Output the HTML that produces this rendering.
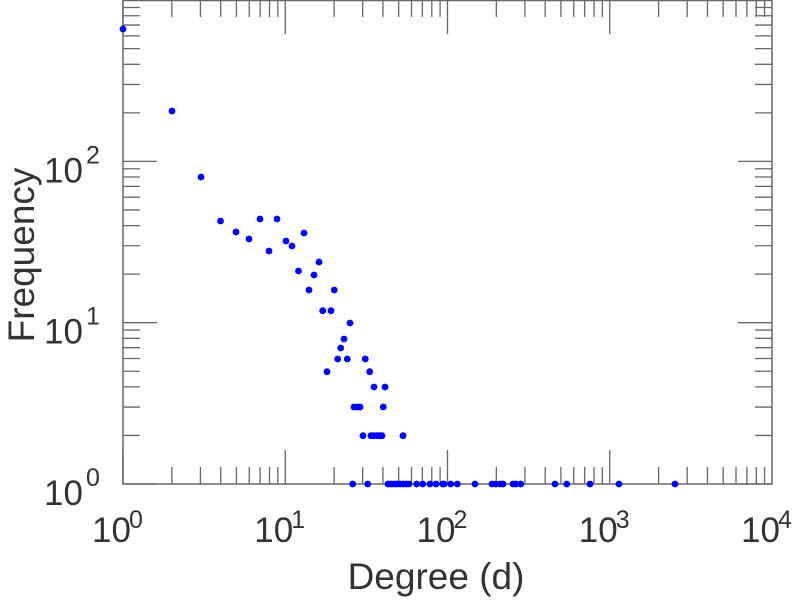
<!DOCTYPE html>
<html><head><meta charset="utf-8"><style>
html,body{margin:0;padding:0;background:#fff;}
svg{display:block;font-family:"Liberation Sans",sans-serif;}
</style></head><body>
<svg id="s" width="805" height="600" xmlns="http://www.w3.org/2000/svg"></svg>
<script>
const s=document.getElementById('s');
const X0=123,X1=772,Y0=484,Y1=0,DX=162.25,DY=161.3;
let h='';
h+=`<rect x="${X0}" y="${Y1+0.5}" width="${X1-X0}" height="${Y0-Y1-0.5}" fill="none" stroke="#666" stroke-width="1.5"/>`;
for(let d=0;d<4;d++){for(let k=1;k<10;k++){const x=X0+DX*(d+Math.log10(k));const L=k==1?34:17;
 h+=`<line x1="${x}" y1="${Y0}" x2="${x}" y2="${Y0-L}" stroke="#666" stroke-width="1.3"/>`;
 h+=`<line x1="${x}" y1="${Y1}" x2="${x}" y2="${Y1+L}" stroke="#666" stroke-width="1.3"/>`;}}
for(let d=0;d<3;d++){for(let k=1;k<10;k++){const y=Y0-DY*(d+Math.log10(k));const L=k==1?34:17;
 h+=`<line x1="${X0}" y1="${y}" x2="${X0+L}" y2="${y}" stroke="#666" stroke-width="1.3"/>`;
 h+=`<line x1="${X1}" y1="${y}" x2="${X1-L}" y2="${y}" stroke="#666" stroke-width="1.3"/>`;}}
for(let d=0;d<=4;d++){const x=X0+DX*d;
 h+=`<text x="${x-31}" y="542" font-size="35" fill="#333">10</text><text x="${x+6}" y="528" font-size="25" fill="#333">${d}</text>`;}
for(let d=0;d<=2;d++){const y=Y0-DY*d;
 h+=`<text x="44" y="${y+21}" font-size="35" fill="#333">10</text><text x="86" y="${y+2}" font-size="25" fill="#333">${d}</text>`;}
h+=`<text x="436" y="589" font-size="37" fill="#333" text-anchor="middle">Degree (d)</text>`;
h+=`<text transform="translate(34,255) rotate(-90)" font-size="37" fill="#333" text-anchor="middle">Frequency</text>`;
const P=[[123,29],[172,111],[201,177],[220.5,221],[236,232],[249,239],[260,219],[269,251],[277,219],[286,241],[292,246],[298.5,271],[304,233],
[319,262],[314,275],[309,290],[334.3,290],[322.7,310.7],[331,310.7],[350,323],[344,339],[340.7,348],[337.7,359],[347.3,359],[365.3,359],
[327,371.7],[369.7,371.7],[374,387],[385,387],[354,407],[357,407],[360,407],[383.3,407],[363,435.7],[371,435.7],[374,435.7],[377,435.7],[380,435.7],[382,435.7],[403,435.7]];
const f1=[352.7,367.7,388,391,394,397,400,403,406,409,416.7,422.7,430,436,442.7,444,450.7,457.3,475,492,496,500,503,513,516,520.7,555,566.7,590,619,675];
f1.forEach(x=>P.push([x,484]));
P.forEach(p=>{h+=`<circle cx="${p[0]}" cy="${p[1]}" r="3.4" fill="#0000ff"/>`;});
s.innerHTML=h;
</script>
</body></html>
